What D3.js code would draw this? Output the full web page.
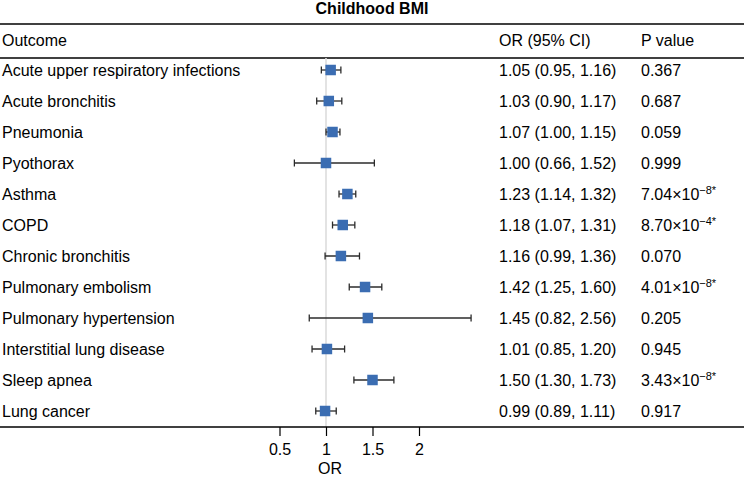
<!DOCTYPE html>
<html>
<head>
<meta charset="utf-8">
<script src="https://cdn.jsdelivr.net/npm/d3@7"></script>
<style>
  body { margin: 0; background: #fff; }
  text { font-family: "Liberation Sans", Arial, sans-serif; fill: #000; }
</style>
</head>
<body>
<svg id="chart" width="744" height="478"></svg>
<script>
const outcomes = ["Acute upper respiratory infections", "Acute bronchitis", "Pneumonia", "Pyothorax",
  "Asthma", "COPD", "Chronic bronchitis", "Pulmonary embolism", "Pulmonary hypertension",
  "Interstitial lung disease", "Sleep apnea", "Lung cancer"];
const orValues = [1.05, 1.03, 1.07, 1.00, 1.23, 1.18, 1.16, 1.42, 1.45, 1.01, 1.50, 0.99];
const ciLow = [0.95, 0.90, 1.00, 0.66, 1.14, 1.07, 0.99, 1.25, 0.82, 0.85, 1.30, 0.89];
const ciHigh = [1.16, 1.17, 1.15, 1.52, 1.32, 1.31, 1.36, 1.60, 2.56, 1.20, 1.73, 1.11];
// p values: mantissa text + superscript exponent (null when plain)
const pBase = ["0.367", "0.687", "0.059", "0.999", "7.04×10", "8.70×10", "0.070", "4.01×10", "0.205", "0.945", "3.43×10", "0.917"];
const pExp = [null, null, null, null, "−8*", "−4*", null, "−8*", null, null, "−8*", null];
const xTicks = [0.5, 1, 1.5, 2];

const CFG = {
  W: 744, H: 478,
  TOP_LINE: 24, HEAD_Y: 40, HEAD_LINE: 58,
  ROW0: 70, ROW_STEP: 31,
  AXIS_Y: 427,
  OR_X: 499, P_X: 641, LABEL_X: 2,
  SQ: 10.5, CAP: 7,
  BLUE: "#3b6db2", WHISK: "#2b2b2b",
  FONT: 16
};

const svg = d3.select("#chart");

const x = d3.scaleLinear().domain([0.5, 2]).range([279.5, 419]);
const y = i => CFG.ROW0 + i * CFG.ROW_STEP;

/* Title */
svg.append("text")
  .attr("x", CFG.W / 2).attr("y", 14)
  .attr("text-anchor", "middle")
  .style("font-weight", "bold").style("font-size", "16px")
  .text("Childhood BMI");

/* Horizontal rules */
[CFG.TOP_LINE, CFG.HEAD_LINE].forEach(yy => {
  svg.append("line")
    .attr("x1", 0).attr("x2", CFG.W)
    .attr("y1", yy).attr("y2", yy)
    .attr("stroke", "#000").attr("stroke-width", 1.3);
});

/* Header */
const head = svg.append("g").style("font-size", CFG.FONT + "px");
head.append("text").attr("x", CFG.LABEL_X).attr("y", CFG.HEAD_Y + 6).text("Outcome");
head.append("text").attr("x", CFG.OR_X).attr("y", CFG.HEAD_Y + 6).text("OR (95% CI)");
head.append("text").attr("x", CFG.P_X).attr("y", CFG.HEAD_Y + 6).text("P value");

/* Reference line at OR = 1 */
svg.append("line")
  .attr("x1", x(1)).attr("x2", x(1))
  .attr("y1", CFG.HEAD_LINE).attr("y2", CFG.AXIS_Y)
  .attr("stroke", "#dcdcdc").attr("stroke-width", 1.6);

/* Axis */
const xAxis = d3.axisBottom(x).tickValues(xTicks).tickSize(9).tickPadding(8)
  .tickFormat(d3.format("~g"));
const ax = svg.append("g")
  .attr("transform", `translate(0, ${CFG.AXIS_Y})`)
  .call(xAxis);
ax.select(".domain").remove();
ax.selectAll(".tick line").attr("stroke", "#000").attr("stroke-width", 1.2);
ax.selectAll(".tick text").style("font-size", CFG.FONT + "px").style("font-family", "Liberation Sans, Arial, sans-serif");
svg.append("line")
  .attr("x1", 0).attr("x2", CFG.W)
  .attr("y1", CFG.AXIS_Y).attr("y2", CFG.AXIS_Y)
  .attr("stroke", "#000").attr("stroke-width", 1.3);
svg.append("text")
  .attr("x", x(1) + 4).attr("y", 474)
  .attr("text-anchor", "middle")
  .style("font-size", CFG.FONT + "px")
  .text("OR");

/* Rows */
const rows = svg.append("g").selectAll("g.row")
  .data(outcomes).enter()
  .append("g").attr("class", "row");

rows.append("text")
  .attr("x", CFG.LABEL_X).attr("y", (d, i) => y(i) + 6)
  .style("font-size", CFG.FONT + "px")
  .text(d => d);

rows.append("text")
  .attr("x", CFG.OR_X).attr("y", (d, i) => y(i) + 6)
  .style("font-size", CFG.FONT + "px")
  .text((d, i) => `${orValues[i].toFixed(2)} (${ciLow[i].toFixed(2)}, ${ciHigh[i].toFixed(2)})`);

const pText = rows.append("text")
  .attr("x", CFG.P_X).attr("y", (d, i) => y(i) + 6)
  .style("font-size", CFG.FONT + "px");
pText.append("tspan").text((d, i) => pBase[i]);
pText.filter((d, i) => pExp[i] !== null)
  .append("tspan")
  .attr("dy", -6)
  .style("font-size", "11px")
  .text(d => pExp[outcomes.indexOf(d)]);

/* Whiskers */
rows.append("line")
  .attr("x1", (d, i) => x(ciLow[i])).attr("x2", (d, i) => x(ciHigh[i]))
  .attr("y1", (d, i) => y(i)).attr("y2", (d, i) => y(i))
  .attr("stroke", CFG.WHISK).attr("stroke-width", 1.3);
[ciLow, ciHigh].forEach(arr => {
  rows.append("line")
    .attr("x1", (d, i) => x(arr[i])).attr("x2", (d, i) => x(arr[i]))
    .attr("y1", (d, i) => y(i) - CFG.CAP / 2).attr("y2", (d, i) => y(i) + CFG.CAP / 2)
    .attr("stroke", CFG.WHISK).attr("stroke-width", 1.3);
});

/* Point estimates */
rows.append("rect")
  .attr("x", (d, i) => x(orValues[i]) - CFG.SQ / 2)
  .attr("y", (d, i) => y(i) - CFG.SQ / 2)
  .attr("width", CFG.SQ).attr("height", CFG.SQ)
  .attr("fill", CFG.BLUE);
</script>
</body>
</html>
